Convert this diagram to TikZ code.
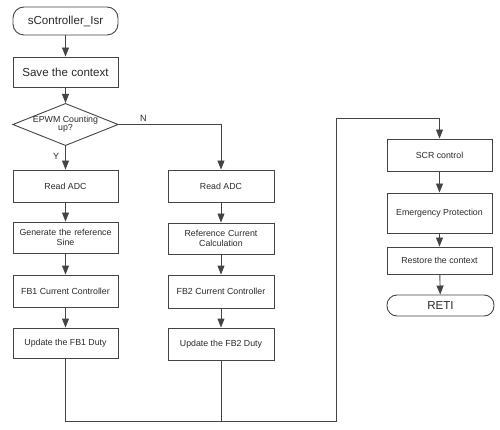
\documentclass[tikz,border=0pt]{standalone}
\usepackage{fontspec}
\setmainfont{Liberation Sans}
\usetikzlibrary{arrows.meta,shapes.geometric}
\definecolor{ln}{HTML}{444444}
\definecolor{tx}{HTML}{2A2A2A}
\tikzset{
  base/.style={draw=ln, line width=0.9pt, text=tx, inner sep=1pt, align=center},
  procbox/.style={base, rectangle, minimum width=105pt, font=\fontsize{8.8}{10.2}\selectfont},
  bigbox/.style={base, rectangle, minimum width=105pt, font=\fontsize{11.6}{13}\selectfont},
  termbox/.style={base, rectangle, rounded corners=11pt, minimum width=105pt, font=\fontsize{11.6}{13}\selectfont},
  decbox/.style={base, diamond, aspect=2.5, minimum width=103pt, minimum height=41pt, inner sep=0pt, font=\fontsize{8.8}{10}\selectfont},
  flow/.style={draw=ln, line width=0.9pt, -{Triangle[length=9pt,width=7pt]}},
  wire/.style={draw=ln, line width=0.9pt},
  lbl/.style={text=tx, font=\fontsize{9}{10}\selectfont, inner sep=0pt}
}
\begin{document}
\begin{tikzpicture}[x=1pt,y=-1pt]
\useasboundingbox (0,0) rectangle (500,430);
% left column
\node[termbox, minimum height=28pt] (start) at (65.5,21) {sController\_Isr};
\node[bigbox, minimum height=30pt] (save) at (65.5,72) {Save the context};
\node[decbox] (dec) at (65.5,124.5) {EPWM Counting\\[-2pt]up?};
\node[procbox, minimum height=32pt] (readL) at (65.5,186) {Read ADC};
\node[procbox, minimum height=31pt, text width=100pt] (gen) at (65.5,237.5) {Generate the reference\\Sine};
\node[procbox, minimum height=32pt] (fb1) at (65.5,291) {FB1 Current Controller};
\node[procbox, minimum height=30pt] (updL) at (65.5,343) {Update the FB1 Duty};
% middle column
\node[procbox, minimum height=32pt, minimum width=106pt] (readR) at (221,186) {Read ADC};
\node[procbox, minimum height=31pt, minimum width=106pt, text width=100pt] (ref) at (221,238.5) {Reference Current\\Calculation};
\node[procbox, minimum height=33pt, minimum width=106pt] (fb2) at (221,291.5) {FB2 Current Controller};
\node[procbox, minimum height=32pt, minimum width=106pt] (updR) at (221,344) {Update the FB2 Duty};
% right column
\node[procbox, minimum height=32pt] (scr) at (439.5,155) {SCR control};
\node[procbox, minimum height=40pt] (emg) at (439.5,213) {Emergency Protection};
\node[procbox, minimum height=27pt] (rst) at (439.5,260.5) {Restore the context};
\node[termbox, minimum height=21pt, minimum width=107pt, rounded corners=10pt] (reti) at (440.5,305.5) {RETI};
% junction points
\coordinate (jb) at (336,421);
\coordinate (jt) at (336,118);
% connectors
\draw[flow] (start) -- (save);
\draw[flow] (save) -- (dec);
\draw[flow] (dec) -- node[lbl, pos=0.45, left=6pt] {Y} (readL);
\draw[flow] (dec.east) -| node[lbl, pos=0.12, above=3pt] {N} (readR.north);
\draw[flow] (readL) -- (gen);
\draw[flow] (gen) -- (fb1);
\draw[flow] (fb1) -- (updL);
\draw[flow] (readR) -- (ref);
\draw[flow] (ref) -- (fb2);
\draw[flow] (fb2) -- (updR);
\draw[wire] (updL.south) |- (jb) -- (jt);
\draw[wire] (updR.south) -- (updR.south |- jb);
\draw[flow] (jt) -| (scr.north);
\draw[flow] (scr) -- (emg);
\draw[flow] (emg) -- (rst);
\draw[flow] (rst) -- (reti);
\end{tikzpicture}
\end{document}
